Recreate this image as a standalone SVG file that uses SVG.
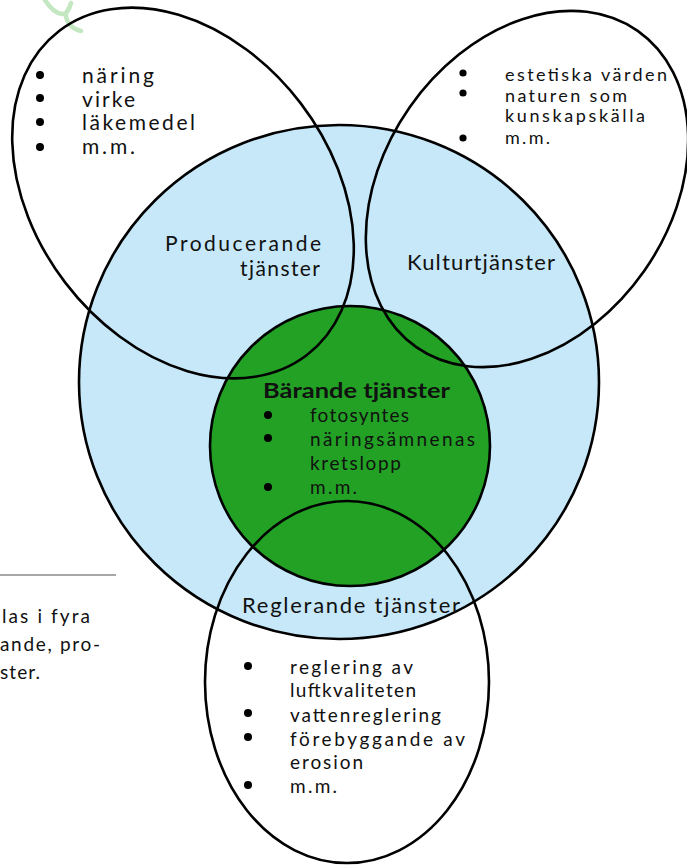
<svg xmlns="http://www.w3.org/2000/svg" width="687" height="865" viewBox="0 0 687 865">
<style>
  .ring{fill:none;stroke:#000;stroke-width:2.6}
  .t{font-family:Lato,"Liberation Sans",sans-serif;fill:#111}
  .l21{font-size:21px}
  .l18{font-size:18px}
  .l19{font-size:19px}
  .l22{font-size:22px}
  .b{font-weight:bold}
  .dot{fill:#000}
</style>
<rect width="687" height="865" fill="#fff"/>
<path d="M45,0 C50,8 55,13 62,14 C67,15 69,9 71,3 M66,15 C66,22 72,29 81,31" fill="none" stroke="#c3e7c1" stroke-width="4.5" stroke-linecap="round"/>
<g id="stod">
  <ellipse cx="339" cy="382" rx="260" ry="257" fill="#c7e8f8" stroke="#000" stroke-width="2.6"/>
</g>
<g id="barande">
  <circle cx="350" cy="446" r="140" fill="#22a125" stroke="#000" stroke-width="2.6"/>
  <text class="t l21 b" x="263" y="398" textLength="187" lengthAdjust="spacingAndGlyphs">Bärande tjänster</text>
  <circle class="dot" cx="268" cy="415" r="4"/>
  <circle class="dot" cx="268" cy="438" r="4"/>
  <circle class="dot" cx="268" cy="487" r="4"/>
  <text class="t l19" x="310" y="422" textLength="99" lengthAdjust="spacing">fotosyntes</text>
  <text class="t l19" x="310" y="446" textLength="165" lengthAdjust="spacing">näringsämnenas</text>
  <text class="t l19" x="310" y="470" textLength="91" lengthAdjust="spacing">kretslopp</text>
  <text class="t l19" x="310" y="494" textLength="47" lengthAdjust="spacing">m.m.</text>
</g>
<g id="producerande">
  <ellipse class="ring" cx="183" cy="193" rx="204" ry="148" transform="rotate(52.6 183 193)"/>
  <circle class="dot" cx="40" cy="75" r="4"/>
  <circle class="dot" cx="40" cy="98" r="4"/>
  <circle class="dot" cx="40" cy="122" r="4"/>
  <circle class="dot" cx="40" cy="147" r="4"/>
  <text class="t l21" x="82" y="83" textLength="72" lengthAdjust="spacing">näring</text>
  <text class="t l21" x="82" y="107" textLength="53" lengthAdjust="spacing">virke</text>
  <text class="t l21" x="82" y="130" textLength="113" lengthAdjust="spacing">läkemedel</text>
  <text class="t l21" x="82" y="154" textLength="53" lengthAdjust="spacing">m.m.</text>
  <text class="t l21" x="165" y="251" textLength="156" lengthAdjust="spacing">Producerande</text>
  <text class="t l21" x="240" y="276" textLength="80" lengthAdjust="spacing">tjänster</text>
</g>
<g id="kultur">
  <ellipse class="ring" cx="527" cy="189" rx="193" ry="143" transform="rotate(-55 527 189)"/>
  <circle class="dot" cx="463" cy="73" r="3.6"/>
  <circle class="dot" cx="463" cy="93" r="3.6"/>
  <circle class="dot" cx="463" cy="138" r="3.6"/>
  <text class="t l18" x="505" y="81" textLength="162" lengthAdjust="spacing">estetiska värden</text>
  <text class="t l18" x="505" y="102" textLength="122" lengthAdjust="spacing">naturen som</text>
  <text class="t l18" x="505" y="122" textLength="140" lengthAdjust="spacing">kunskapskälla</text>
  <text class="t l18" x="505" y="144" textLength="45" lengthAdjust="spacing">m.m.</text>
  <text class="t l22" x="407" y="270" textLength="148" lengthAdjust="spacing">Kulturtjänster</text>
</g>
<g id="reglerande">
  <ellipse class="ring" cx="347" cy="682" rx="142" ry="181"/>
  <text class="t l22" x="242" y="613" textLength="218" lengthAdjust="spacing">Reglerande tjänster</text>
  <circle class="dot" cx="248" cy="666" r="4"/>
  <circle class="dot" cx="248" cy="713" r="4"/>
  <circle class="dot" cx="248" cy="737" r="4"/>
  <circle class="dot" cx="248" cy="785" r="4"/>
  <text class="t l19" x="290" y="674" textLength="123" lengthAdjust="spacing">reglering av</text>
  <text class="t l19" x="290" y="697" textLength="126" lengthAdjust="spacing">luftkvaliteten</text>
  <text class="t l19" x="290" y="722" textLength="151" lengthAdjust="spacing">vattenreglering</text>
  <text class="t l19" x="290" y="746" textLength="175" lengthAdjust="spacing">förebyggande av</text>
  <text class="t l19" x="290" y="769" textLength="73" lengthAdjust="spacing">erosion</text>
  <text class="t l19" x="290" y="793" textLength="47" lengthAdjust="spacing">m.m.</text>
</g>
<g id="caption">
  <line x1="0" y1="575" x2="116" y2="575" stroke="#8a8a8a" stroke-width="1.5"/>
  <text class="t l19" x="2" y="623" textLength="88" lengthAdjust="spacing">las i fyra</text>
  <text class="t l19" x="0" y="651" textLength="100" lengthAdjust="spacing">ande, pro-</text>
  <text class="t l19" x="0" y="679" textLength="40" lengthAdjust="spacing">ster.</text>
</g>
</svg>
